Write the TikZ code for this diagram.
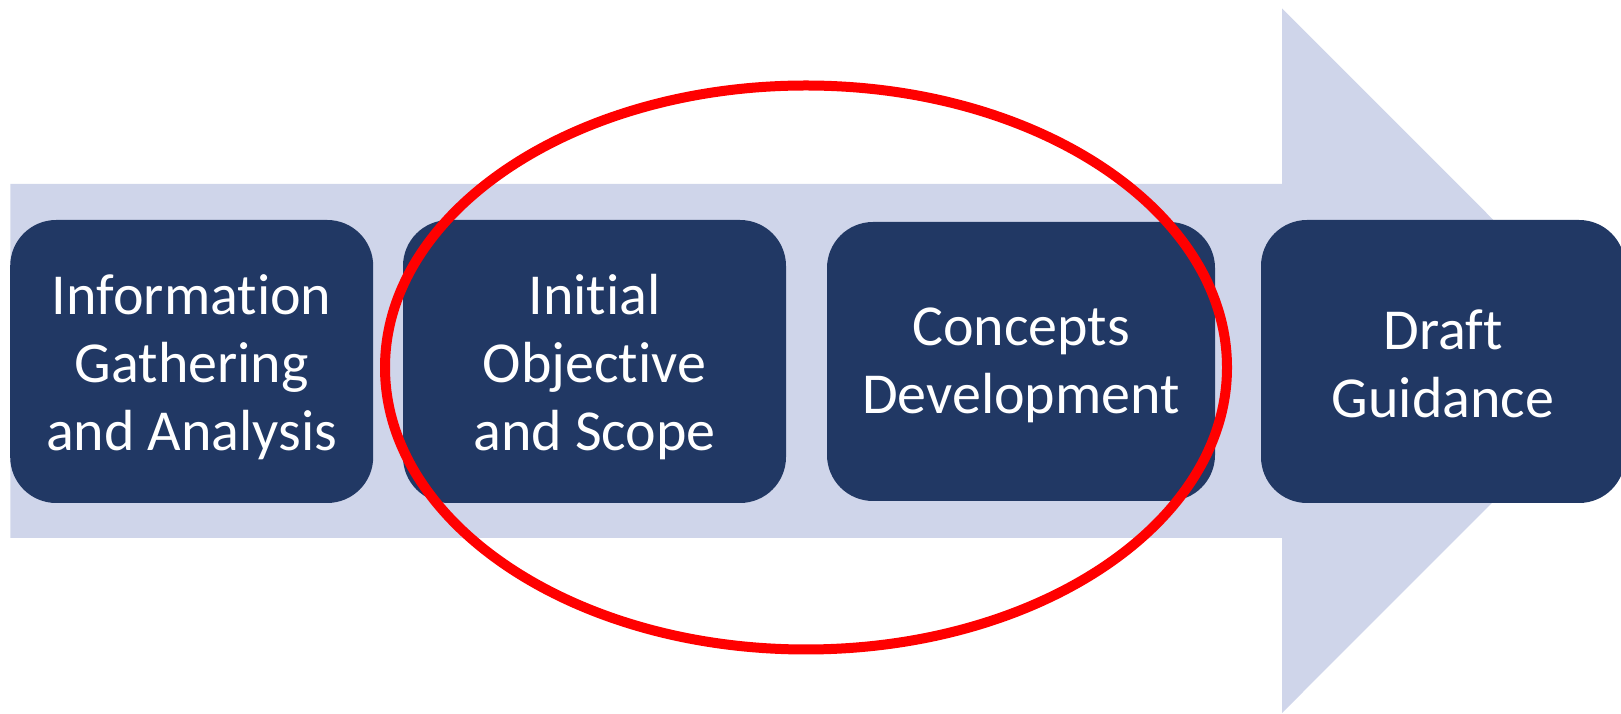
\documentclass[tikz,border=0pt]{standalone}
\usepackage{fontspec}
\setmainfont[Ligatures=NoCommon]{Carlito}
\definecolor{bodyc}{HTML}{CFD5EA}
\definecolor{boxc}{HTML}{213864}
\definecolor{ringc}{HTML}{FF0000}
\begin{document}
\begin{tikzpicture}[x=1pt,y=1pt,
  stepbox/.style={fill=boxc, draw=none, rounded corners=46pt, inner sep=0pt},
  steptext/.style={text=white, align=center, inner sep=0pt,
    font=\fontsize{58}{68}\selectfont, yshift=-6pt}]
\useasboundingbox (0,0) rectangle (1621,714);
\begin{scope}
\clip (0,0) rectangle (1621,714);
\fill[bodyc] (10.3,176) -- (1282,176) -- (1282,1) -- (1634,353.3) -- (1282,705.7) -- (1282,530) -- (10.3,530) -- cycle;
\node[stepbox, minimum width=363pt, minimum height=283pt,
  label={[steptext]center:{Information\\Gathering\\and Analysis}}] (s1) at (191.7,352.5) {};
\node[stepbox, minimum width=383pt, minimum height=283pt,
  label={[steptext]center:{Initial\\Objective\\and Scope}}] (s2) at (594.5,352.5) {};
\node[stepbox, minimum width=388pt, minimum height=279pt,
  label={[steptext, yshift=2pt]center:{Concepts\\Development}}] (s3) at (1021,352.5) {};
\node[stepbox, minimum width=364pt, minimum height=283pt,
  label={[steptext, yshift=4pt]center:{Draft\\Guidance}}] (s4) at (1443,352.5) {};
\draw[ringc, line width=10pt] (806,346.5) ellipse [x radius=421, y radius=282];
\end{scope}
\end{tikzpicture}
\end{document}
